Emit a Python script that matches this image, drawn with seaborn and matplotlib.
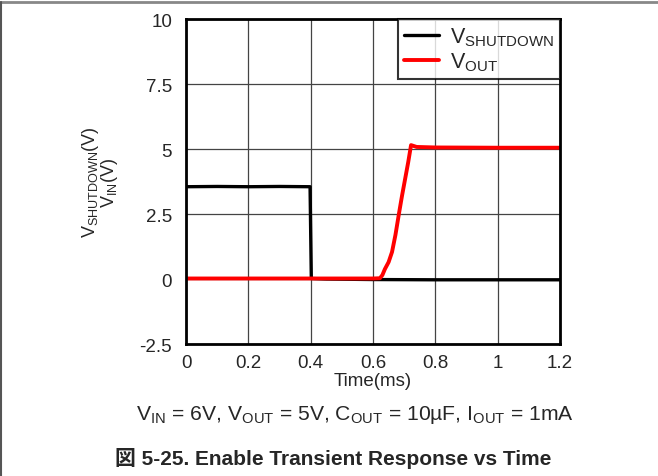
import matplotlib
matplotlib.use("Agg")
import matplotlib.pyplot as plt
import seaborn as sns
import pandas as pd

# Shutdown pin voltage (V) vs time (ms)
shutdown_t = [0.0, 0.10, 0.20, 0.30, 0.398, 0.402, 0.45, 0.60, 0.80, 1.00, 1.20]
shutdown_v = [3.55, 3.56, 3.55, 3.56, 3.55, 0.02, 0.0, -0.02, -0.03, -0.03, -0.03]

# Output voltage (V) vs time (ms)
vout_t = [0.0, 0.20, 0.40, 0.60, 0.622, 0.630, 0.638, 0.650, 0.661, 0.672, 0.683,
          0.693, 0.703, 0.713, 0.722, 0.74, 0.80, 1.00, 1.20]
vout_v = [0.02, 0.02, 0.02, 0.02, 0.03, 0.15, 0.38, 0.65, 1.04, 1.7, 2.5,
          3.2, 3.85, 4.5, 5.15, 5.08, 5.06, 5.05, 5.05]

x_ticks = [0, 0.2, 0.4, 0.6, 0.8, 1, 1.2]
x_labels = ["0", "0.2", "0.4", "0.6", "0.8", "1", "1.2"]
y_ticks = [-2.5, 0, 2.5, 5, 7.5, 10]
y_labels = ["-2.5", "0", "2.5", "5", "7.5", "10"]

sns.set_style("white")
plt.rcParams["font.family"] = ["Liberation Sans", "Noto Sans CJK JP", "DejaVu Sans"]
plt.rcParams["mathtext.fontset"] = "custom"
plt.rcParams["mathtext.rm"] = "Liberation Sans"
plt.rcParams["mathtext.it"] = "Liberation Sans"

fig = plt.figure(figsize=(6.58, 4.77), dpi=100)
ax = fig.add_axes([0.2827, 0.2767, 0.5684, 0.6813])

df_sd = pd.DataFrame({"t": shutdown_t, "v": shutdown_v})
df_out = pd.DataFrame({"t": vout_t, "v": vout_v})
sns.lineplot(data=df_sd, x="t", y="v", color="black", linewidth=2.4,
             label=r"$\mathregular{V_{SHUTDOWN}}$", ax=ax, sort=False)
sns.lineplot(data=df_out, x="t", y="v", color="#ff0000", linewidth=2.8,
             label=r"$\mathregular{V_{OUT}}$", ax=ax, sort=False)

ax.set_xlim(0, 1.2)
ax.set_ylim(-2.5, 10)
ax.set_xticks(x_ticks)
ax.set_xticklabels(x_labels, fontsize=13.5)
ax.set_yticks(y_ticks)
ax.set_yticklabels(y_labels, fontsize=13.5)
ax.grid(True, color="#444444", linewidth=0.9)
ax.set_axisbelow(True)
ax.tick_params(axis="x", length=0, pad=7)
ax.tick_params(axis="y", length=0, pad=10)
for s in ax.spines.values():
    s.set_color("black")
    s.set_linewidth(2)

ax.set_xlabel("Time(ms)", fontsize=13.5, labelpad=1)
ax.set_ylabel(r"$\mathregular{V_{SHUTDOWN}(V)}$" + "\n" + r"$\mathregular{V_{IN}(V)}$",
              fontsize=13, labelpad=14, linespacing=0.85)

leg = ax.legend(loc="upper right", bbox_to_anchor=(1.0, 1.0), fontsize=15.5,
                frameon=True, fancybox=False, borderaxespad=0, handlelength=1.6,
                handletextpad=0.5, borderpad=0.3, labelspacing=0.1)
leg.get_frame().set_edgecolor("black")
leg.get_frame().set_linewidth(1.5)

fig.text(0.54, 0.13,
         r"$\mathregular{V_{IN}}$ = 6V, $\mathregular{V_{OUT}}$ = 5V, "
         r"$\mathregular{C_{OUT}}$ = 10µF, $\mathregular{I_{OUT}}$ = 1mA",
         ha="center", va="center", fontsize=15.2)
fig.text(0.506, 0.038, "図 5-25. Enable Transient Response vs Time",
         ha="center", va="center", fontsize=15, fontweight="bold")

# page border (top and left)
fig.add_artist(plt.Line2D([0, 1], [0.994, 0.994], color="#888888", linewidth=2,
                          transform=fig.transFigure))
fig.add_artist(plt.Line2D([0.0015, 0.0015], [0, 0.994], color="#555555", linewidth=1.5,
                          transform=fig.transFigure))

fig.savefig("out.png", dpi=100)
plt.close(fig)
